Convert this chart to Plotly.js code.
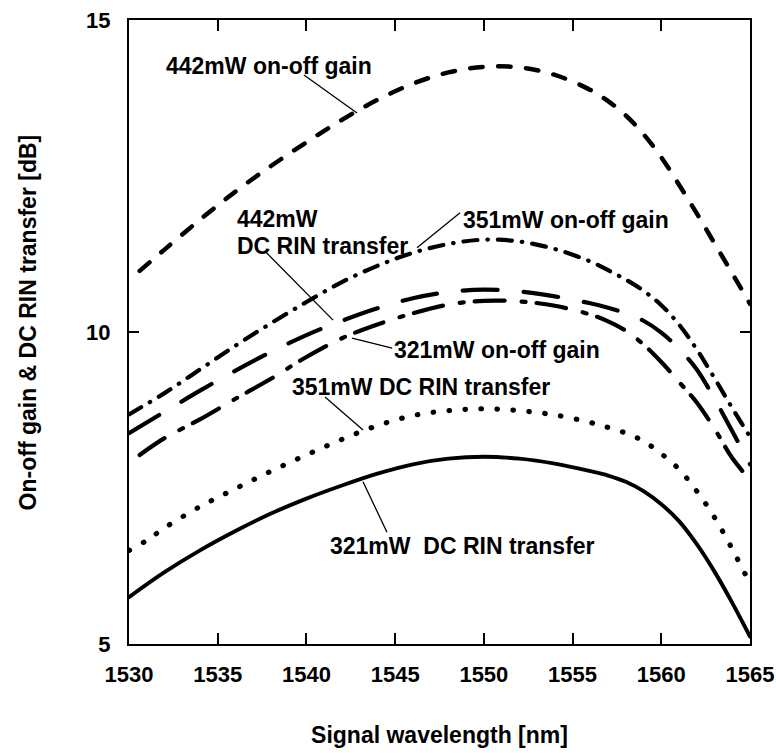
<!DOCTYPE html>
<html>
<head>
<meta charset="utf-8">
<script src="https://cdn.plot.ly/plotly-3.0.1.min.js"></script>
<style>
  html, body { margin: 0; padding: 0; background: #fff; }
  #chart { width: 776px; height: 753px; }
  .scatterlayer .js-line { stroke-linecap: round !important; }
</style>
</head>
<body>
<div id="chart"></div>
<script>
// Raman amplifier: on-off gain and DC RIN transfer vs. signal wavelength

// 442 mW pump, on-off gain
const gain442X = [1530.6, 1532, 1534, 1536, 1538, 1540, 1542, 1544, 1546, 1548, 1550, 1552, 1554, 1556, 1557, 1558, 1559, 1560, 1561, 1562, 1563, 1564, 1565];
const gain442Y = [10.98, 11.32, 11.8, 12.25, 12.66, 13.04, 13.4, 13.72, 13.98, 14.16, 14.25, 14.24, 14.12, 13.88, 13.7, 13.47, 13.17, 12.8, 12.36, 11.9, 11.42, 10.94, 10.45];

// 351 mW pump, on-off gain
const gain351X = [1530, 1532, 1534, 1536, 1538, 1540, 1542, 1544, 1546, 1548, 1550, 1552, 1554, 1556, 1557, 1558, 1559, 1560, 1561, 1562, 1563, 1564, 1565];
const gain351Y = [8.68, 9.02, 9.4, 9.78, 10.14, 10.48, 10.8, 11.06, 11.27, 11.41, 11.48, 11.45, 11.33, 11.13, 10.99, 10.84, 10.66, 10.43, 10.12, 9.72, 9.26, 8.78, 8.32];

// 442 mW pump, DC RIN transfer
const rin442X = [1530, 1532, 1534, 1536, 1538, 1540, 1542, 1544, 1546, 1548, 1550, 1552, 1554, 1556, 1557, 1558, 1559, 1560, 1561, 1562, 1563, 1564, 1565];
const rin442Y = [8.38, 8.72, 9.06, 9.38, 9.68, 9.95, 10.18, 10.38, 10.54, 10.64, 10.68, 10.65, 10.57, 10.46, 10.39, 10.3, 10.18, 9.99, 9.73, 9.4, 8.93, 8.41, 7.88];

// 321 mW pump, on-off gain
const gain321X = [1530.6, 1532, 1534, 1536, 1538, 1540, 1542, 1544, 1546, 1548, 1550, 1552, 1554, 1556, 1557, 1558, 1559, 1560, 1561, 1562, 1563, 1564, 1565];
const gain321Y = [8.03, 8.3, 8.6, 8.93, 9.25, 9.6, 9.9, 10.12, 10.3, 10.44, 10.5, 10.49, 10.42, 10.28, 10.17, 10.02, 9.8, 9.52, 9.2, 8.87, 8.45, 7.98, 7.63];

// 351 mW pump, DC RIN transfer
const rin351X = [1530, 1531, 1532, 1534, 1536, 1538, 1540, 1542, 1544, 1546, 1548, 1550, 1552, 1554, 1556, 1557, 1558, 1559, 1560, 1561, 1562, 1563, 1564, 1565];
const rin351Y = [6.5, 6.66, 6.86, 7.2, 7.49, 7.77, 8.03, 8.28, 8.5, 8.66, 8.74, 8.77, 8.74, 8.67, 8.55, 8.47, 8.38, 8.25, 8.05, 7.8, 7.45, 7.03, 6.52, 5.97];

// 321 mW pump, DC RIN transfer
const rin321X = [1530, 1532, 1534, 1536, 1538, 1540, 1542, 1544, 1546, 1548, 1550, 1552, 1554, 1556, 1557, 1558, 1559, 1560, 1561, 1562, 1563, 1564, 1565];
const rin321Y = [5.75, 6.15, 6.5, 6.81, 7.09, 7.33, 7.54, 7.73, 7.88, 7.97, 8.0, 7.97, 7.89, 7.77, 7.7, 7.6, 7.45, 7.24, 6.97, 6.6, 6.16, 5.66, 5.12];

const xTicks = [1530, 1535, 1540, 1545, 1550, 1555, 1560, 1565];
const yTicks = [5, 10, 15];

const FONT = 'Liberation Sans, Arial, Helvetica, sans-serif';

function curve(x, y, dash, width) {
  return {
    type: 'scatter', mode: 'lines', x: x, y: y,
    line: { color: '#000', width: width, dash: dash, shape: 'spline', smoothing: 1 },
    hoverinfo: 'skip', showlegend: false
  };
}

const traces = [
  curve(gain442X, gain442Y, '12.5px,15.5px', 4.5),
  curve(gain351X, gain351Y, '14px,10px,0.5px,10px', 4.2),
  curve(rin442X, rin442Y, '35px,26px', 4.2),
  curve(gain321X, gain321Y, '30px,17px,4px,11px', 4.2),
  curve(rin351X, rin351Y, '0.5px,15.5px', 5.2),
  curve(rin321X, rin321Y, 'solid', 3.9)
];

function label(text, x, y) {
  return {
    text: text, x: x, y: y, xref: 'x', yref: 'y',
    xanchor: 'left', yanchor: 'middle', showarrow: false,
    font: { family: FONT, size: 23, color: '#000', weight: 'bold' }
  };
}

function pointer(x0, y0, x1, y1) {
  return { type: 'line', xref: 'x', yref: 'y', x0: x0, y0: y0, x1: x1, y1: y1,
           line: { color: '#000', width: 1.3 } };
}

const layout = {
  width: 776, height: 753,
  margin: { l: 129, r: 26, t: 20, b: 109 },
  paper_bgcolor: '#fff', plot_bgcolor: '#fff',
  font: { family: FONT, color: '#000' },
  xaxis: {
    range: [1530, 1565], tickvals: xTicks, ticktext: xTicks.map(String),
    showgrid: false, zeroline: false,
    showline: true, linecolor: '#000', linewidth: 2, mirror: 'ticks',
    ticks: 'inside', ticklen: 11, tickwidth: 2, tickcolor: '#000',
    ticklabelstandoff: 10,
    tickfont: { family: FONT, size: 22, color: '#000', weight: 'bold' },
    title: { text: 'Signal wavelength [nm]', standoff: 40,
             font: { family: FONT, size: 23, color: '#000', weight: 'bold' } }
  },
  yaxis: {
    range: [5, 15], tickvals: yTicks, ticktext: yTicks.map(String),
    showgrid: false, zeroline: false,
    showline: true, linecolor: '#000', linewidth: 2, mirror: 'ticks',
    ticks: 'inside', ticklen: 10, tickwidth: 2, tickcolor: '#000',
    ticklabelstandoff: 12,
    tickfont: { family: FONT, size: 22, color: '#000', weight: 'bold' }
  },
  annotations: [
    // vertical axis title, set slightly above the axis centre
    {
      text: 'On-off gain &amp; DC RIN transfer [dB]', xref: 'paper', yref: 'paper',
      x: -0.163, y: 0.515, xanchor: 'center', yanchor: 'middle', textangle: -90,
      showarrow: false, font: { family: FONT, size: 23, color: '#000', weight: 'bold' }
    },
    label('442mW on-off gain', 1532.0, 14.26),
    label('442mW', 1535.95, 11.81),
    label('DC RIN transfer', 1535.95, 11.38),
    label('351mW on-off gain', 1548.7, 11.79),
    label('321mW on-off gain', 1544.85, 9.71),
    label('351mW DC RIN transfer', 1539.1, 9.12),
    label('321mW\u00A0\u00A0DC RIN transfer', 1541.2, 6.57)
  ],
  shapes: [
    pointer(1539.86, 14.12, 1542.85, 13.51),
    pointer(1537.75, 11.27, 1541.5, 10.19),
    pointer(1548.66, 11.91, 1546.23, 11.35),
    pointer(1544.83, 9.74, 1542.57, 9.9),
    pointer(1541.05, 8.96, 1543.19, 8.43),
    pointer(1543.19, 7.6, 1544.54, 6.79)
  ]
};

Plotly.newPlot('chart', traces, layout, { staticPlot: true, displayModeBar: false });
</script>
</body>
</html>
